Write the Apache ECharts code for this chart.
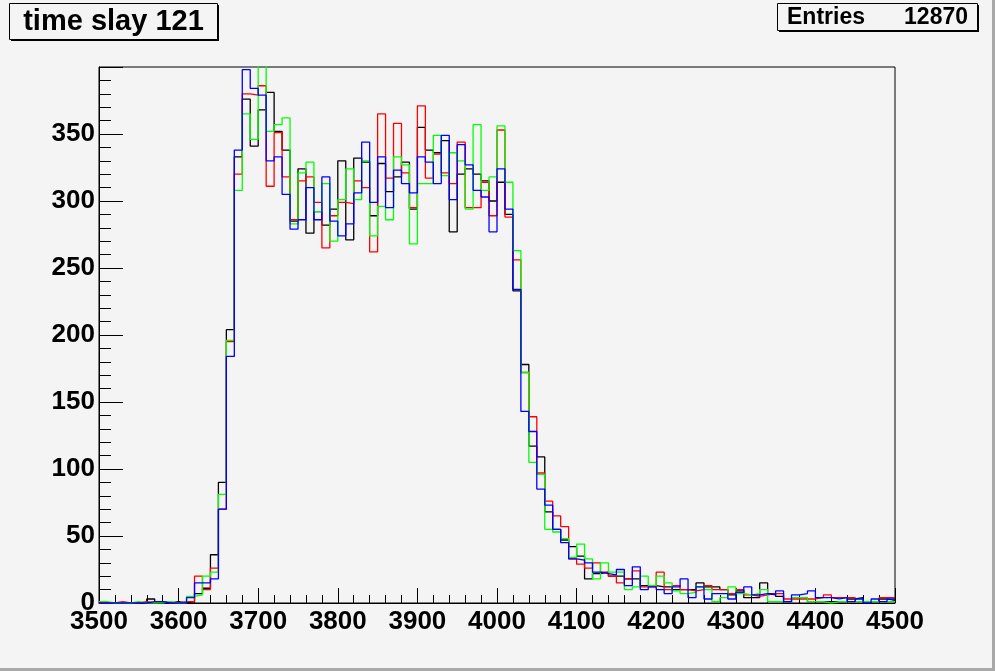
<!DOCTYPE html>
<html>
<head>
<meta charset="utf-8">
<script src="https://cdn.jsdelivr.net/npm/echarts@6/dist/echarts.min.js"></script>
<style>
html,body{margin:0;padding:0;background:#f4f4f4;}
#c{width:995px;height:671px;}
</style>
</head>
<body>
<div id="c"></div>
<script>
// Histogram "time slay 121": 100 bins of width 10 from 3500 to 4500
const titleText = 'time slay 121';
const entriesLabel = 'Entries';
const entriesValue = '12870';
const binStart = 3500;
const binWidth = 10;
const xTicks = [3500, 3600, 3700, 3800, 3900, 4000, 4100, 4200, 4300, 4400, 4500];
const yTicks = [0, 50, 100, 150, 200, 250, 300, 350];

const blackCounts = [
  0,0,0,0,0,0,3,1,0,1, 0,1,7,11,36,90,204,333,376,341,
  368,381,352,338,285,324,276,292,282,294, 330,271,332,329,289,328,307,318,329,294,
  355,338,336,345,277,320,324,320,315,300, 314,290,233,178,117,109,68,55,47,42,
  35,18,22,23,20,20,18,18,13,13, 12,12,10,10,10,15,12,12,10,6,
  9,4,4,15,7,5,1,4,4,1, 1,1,1,1,3,4,1,1,3,2
];
const redCounts = [
  0,0,1,0,0,1,0,1,0,0, 1,1,20,10,26,70,195,320,380,379,
  386,311,351,318,286,315,318,299,265,289, 299,298,315,310,262,365,317,358,321,295,
  371,317,335,321,313,344,295,295,314,289, 353,288,256,172,139,97,76,65,57,33,
  29,26,30,23,20,15,18,24,12,12, 23,10,13,10,9,10,13,10,10,7,
  10,6,5,6,7,7,3,3,3,3, 4,6,4,4,4,1,1,1,4,4
];
const greenCounts = [
  1,0,0,0,1,0,0,0,1,0, 0,5,6,20,23,81,196,308,365,346,
  405,352,357,362,283,321,329,292,313,270, 301,324,301,330,274,296,286,333,327,268,
  313,313,349,319,336,330,294,357,308,318, 356,314,263,172,105,96,55,53,48,34,
  44,33,18,30,23,23,10,12,20,13, 20,15,9,7,8,12,10,1,4,12,
  7,6,7,10,1,1,1,4,4,1, 1,0,1,1,1,1,1,1,1,1
];
const blueCounts = [
  0,0,0,0,0,0,1,1,0,0, 0,4,15,15,18,70,184,338,398,384,
  379,330,333,305,279,286,310,286,318,285, 274,283,306,344,299,333,295,323,313,306,
  333,329,313,349,301,342,327,308,303,277, 324,294,234,143,128,85,73,55,45,33,
  32,30,23,22,21,25,13,27,10,12, 10,7,12,18,4,12,3,7,7,3,
  8,12,6,7,6,9,1,6,7,9, 4,4,3,4,1,3,0,3,1,3
];

function stepData(counts) {
  const pts = counts.map((v, i) => [binStart + i * binWidth, v]);
  pts.push([binStart + counts.length * binWidth, counts[counts.length - 1]]);
  return pts;
}

const chart = echarts.init(document.getElementById('c'), null, {renderer: 'canvas'});
const FONT = 'Liberation Sans, Arial, sans-serif';

function histSeries(name, counts, color, z) {
  return {
    name: name, type: 'line', step: 'end', data: stepData(counts),
    showSymbol: false, symbol: 'none', clip: true, z: z,
    lineStyle: {color: color, width: 1.3}, animation: false
  };
}

chart.setOption({
  backgroundColor: '#f4f4f4',
  animation: false,
  grid: {left: 99, right: 100, top: 67, bottom: 68, show: true, borderColor: '#000', borderWidth: 1, backgroundColor: '#f4f4f4'},
  xAxis: {
    type: 'value', min: xTicks[0], max: xTicks[xTicks.length - 1], interval: 100,
    axisLine: {show: true, onZero: false, lineStyle: {color: '#000', width: 1}},
    axisTick: {show: true, inside: true, length: 15, lineStyle: {color: '#000'}},
    minorTick: {show: true, splitNumber: 5, length: 8, lineStyle: {color: '#000'}},
    splitLine: {show: false},
    axisLabel: {color: '#000', fontFamily: FONT, fontWeight: 'bold', fontSize: 26, margin: 6,
      formatter: v => xTicks.indexOf(v) >= 0 ? String(v) : ''}
  },
  yAxis: {
    type: 'value', min: 0, max: 400, interval: 50,
    axisLine: {show: true, lineStyle: {color: '#000', width: 1}},
    axisTick: {show: true, inside: true, length: 24, lineStyle: {color: '#000'}},
    minorTick: {show: true, splitNumber: 5, length: 12, lineStyle: {color: '#000'}},
    splitLine: {show: false},
    axisLabel: {color: '#000', fontFamily: FONT, fontWeight: 'bold', fontSize: 26, margin: 4,
      formatter: v => yTicks.indexOf(v) >= 0 ? String(v) : ''}
  },
  series: [
    histSeries('black', blackCounts, '#000000', 2),
    histSeries('red', redCounts, '#ff0000', 3),
    histSeries('green', greenCounts, '#00ff00', 4),
    histSeries('blue', blueCounts, '#0000ff', 5)
  ],
  graphic: [
    {type: 'rect', shape: {x: 0, y: 668, width: 995, height: 3}, style: {fill: '#a8a8a8'}, silent: true, z: 10},
    {type: 'rect', shape: {x: 992, y: 0, width: 3, height: 671}, style: {fill: '#a8a8a8'}, silent: true, z: 10},
    {type: 'rect', shape: {x: 11, y: 5, width: 208, height: 36}, style: {fill: '#000'}, silent: true, z: 10},
    {type: 'rect', shape: {x: 9.5, y: 3.5, width: 208, height: 36}, style: {fill: '#f4f4f4', stroke: '#000', lineWidth: 1}, silent: true, z: 11},
    {type: 'text', x: 113.5, y: 22, style: {text: titleText, fontFamily: FONT, fontWeight: 'bold', fontSize: 29, fill: '#000', align: 'center', verticalAlign: 'middle'}, silent: true, z: 12},
    {type: 'rect', shape: {x: 779, y: 5, width: 200, height: 27}, style: {fill: '#000'}, silent: true, z: 10},
    {type: 'rect', shape: {x: 777.5, y: 3.5, width: 200, height: 27}, style: {fill: '#f4f4f4', stroke: '#000', lineWidth: 1}, silent: true, z: 11},
    {type: 'text', x: 787, y: 18, style: {text: entriesLabel, fontFamily: FONT, fontWeight: 'bold', fontSize: 23, fill: '#000', align: 'left', verticalAlign: 'middle'}, silent: true, z: 12},
    {type: 'text', x: 968, y: 18, style: {text: entriesValue, fontFamily: FONT, fontWeight: 'bold', fontSize: 23, fill: '#000', align: 'right', verticalAlign: 'middle'}, silent: true, z: 12}
  ]
});
</script>
</body>
</html>
